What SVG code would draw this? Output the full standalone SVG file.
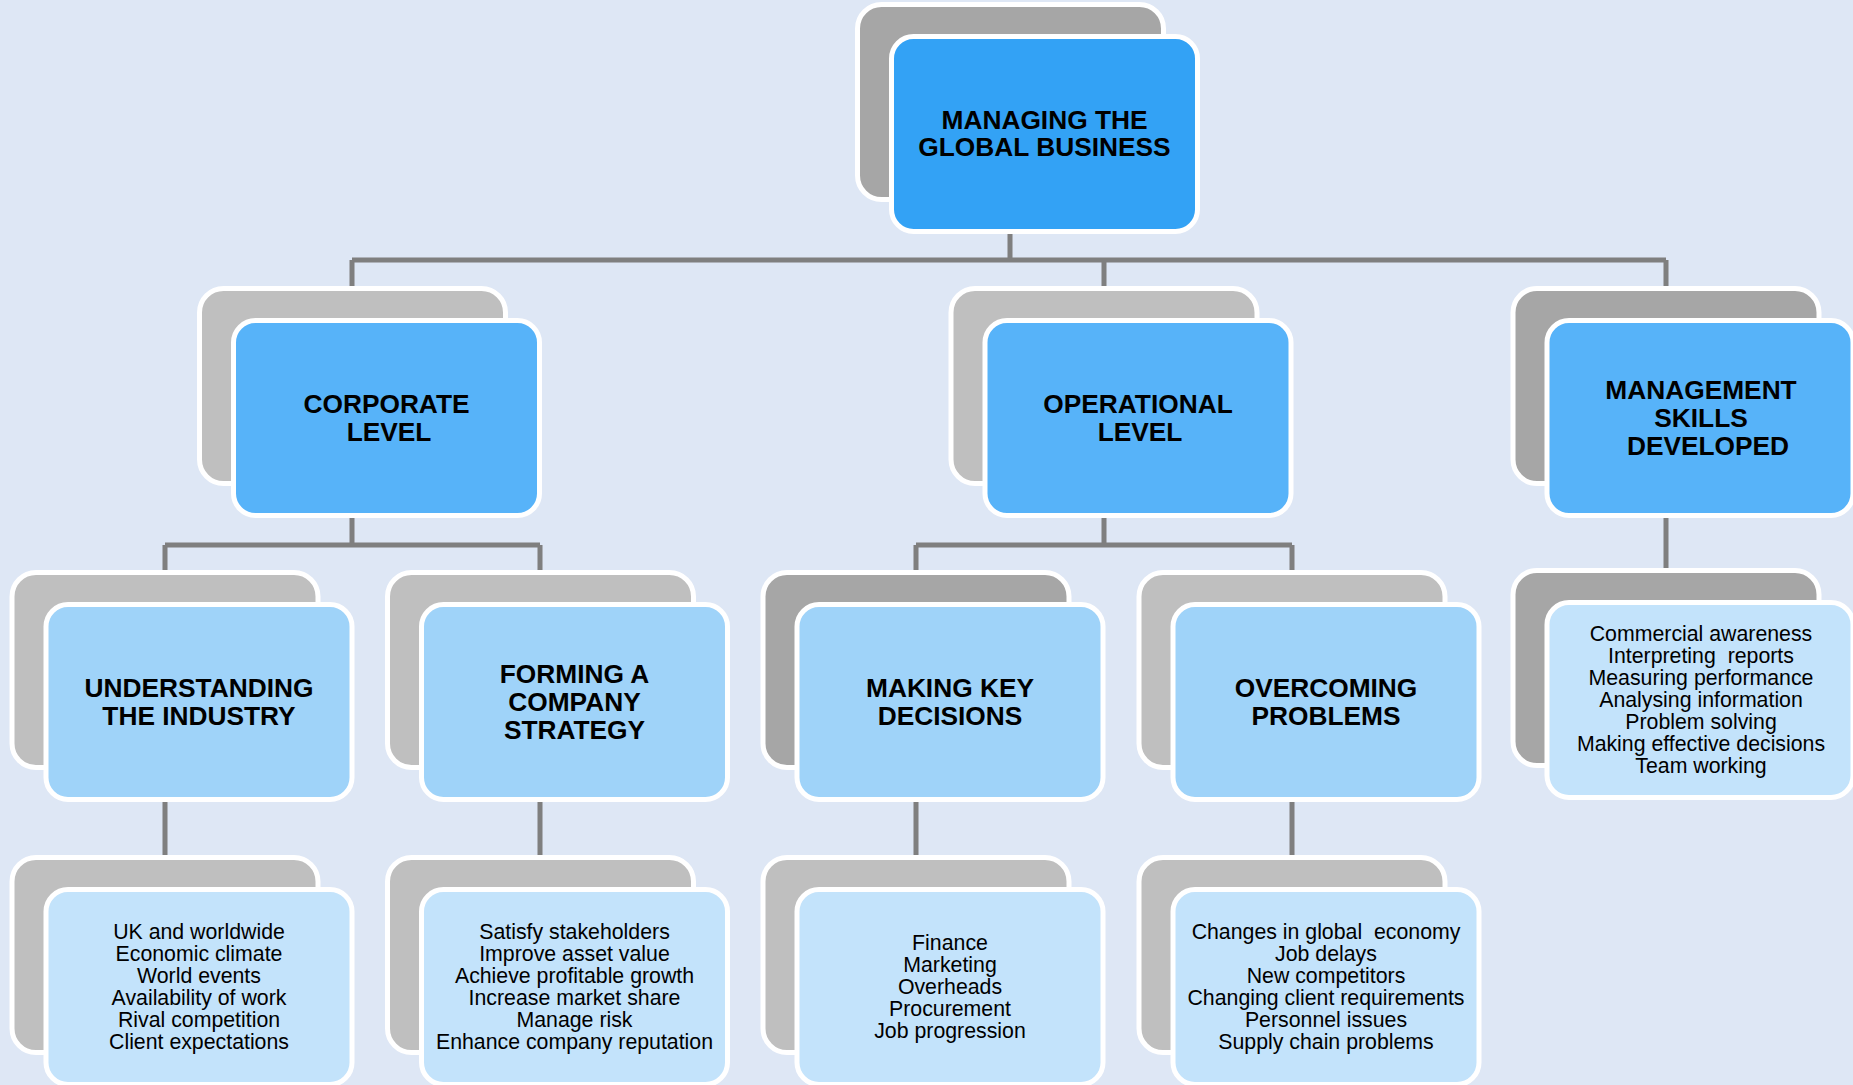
<svg xmlns="http://www.w3.org/2000/svg" width="1853" height="1085" viewBox="0 0 1853 1085">
<style>
.bg{fill:#dee7f5}
.back{stroke:#ffffff;stroke-width:5}
.dk{fill:#a6a6a6}
.lt{fill:#bfbfbf}
.front{stroke:#ffffff;stroke-width:5}
.l1{fill:#33a2f5}
.l2{fill:#57b3f9}
.l3{fill:#9fd3f9}
.l4{fill:#c3e3fb}
.conn{stroke:#7f7f7f;stroke-width:5;fill:none}
.t{font-family:"Liberation Sans",Arial,sans-serif;font-weight:bold;font-size:26.3px;fill:#000;text-anchor:middle}
.s{font-family:"Liberation Sans",Arial,sans-serif;font-size:21.3px;fill:#000;text-anchor:middle;white-space:pre}
</style>
<rect class="bg" x="0" y="0" width="1853" height="1085"/>
<g id="connectors">
<path class="conn" d="M1010 234V260M352 260H1666M352 260V288M1104 260V288M1666 260V288"/>
<path class="conn" d="M352 518V545M165 545H540M165 545V572M540 545V572"/>
<path class="conn" d="M1104 518V545M916 545H1292M916 545V572M1292 545V572"/>
<path class="conn" d="M1666 518V570"/>
<path class="conn" d="M165 802V858M540 802V858M916 802V858M1292 802V858"/>
</g>
<g id="node-top">
<rect class="back dk" x="857.5" y="4.5" width="306" height="195" rx="24"/>
<rect class="front l1" x="891.5" y="36.5" width="306" height="195" rx="22"/>
<text class="t" x="1044.5" y="129" font-size="27">MANAGING THE</text>
<text class="t" x="1044.5" y="156" font-size="27">GLOBAL BUSINESS</text>
</g>
<g id="node-corporate">
<rect class="back lt" x="199.5" y="288.5" width="306" height="195" rx="24"/>
<rect class="front l2" x="233.5" y="320.5" width="306" height="195" rx="22"/>
<text class="t" x="386.5" y="413">CORPORATE</text>
<text class="t" x="389" y="441">LEVEL</text>
</g>
<g id="node-operational">
<rect class="back lt" x="951" y="288.5" width="306" height="195" rx="24"/>
<rect class="front l2" x="985" y="320.5" width="306" height="195" rx="22"/>
<text class="t" x="1138" y="413">OPERATIONAL</text>
<text class="t" x="1140" y="441">LEVEL</text>
</g>
<g id="node-management">
<rect class="back dk" x="1513" y="288.5" width="306" height="195" rx="24"/>
<rect class="front l2" x="1547" y="320.5" width="306" height="195" rx="22"/>
<text class="t" x="1701" y="399">MANAGEMENT</text>
<text class="t" x="1701" y="427">SKILLS</text>
<text class="t" x="1708" y="455">DEVELOPED</text>
</g>
<g id="node-understanding">
<rect class="back lt" x="12" y="572.5" width="306" height="195" rx="24"/>
<rect class="front l3" x="46" y="604.5" width="306" height="195" rx="22"/>
<text class="t" x="199" y="697">UNDERSTANDING</text>
<text class="t" x="199" y="725">THE INDUSTRY</text>
</g>
<g id="node-forming">
<rect class="back lt" x="387.5" y="572.5" width="306" height="195" rx="24"/>
<rect class="front l3" x="421.5" y="604.5" width="306" height="195" rx="22"/>
<text class="t" x="574.5" y="683">FORMING A</text>
<text class="t" x="574.5" y="711">COMPANY</text>
<text class="t" x="574.5" y="739">STRATEGY</text>
</g>
<g id="node-making">
<rect class="back dk" x="763" y="572.5" width="306" height="195" rx="24"/>
<rect class="front l3" x="797" y="604.5" width="306" height="195" rx="22"/>
<text class="t" x="950" y="697">MAKING KEY</text>
<text class="t" x="950" y="725">DECISIONS</text>
</g>
<g id="node-overcoming">
<rect class="back lt" x="1139" y="572.5" width="306" height="195" rx="24"/>
<rect class="front l3" x="1173" y="604.5" width="306" height="195" rx="22"/>
<text class="t" x="1326" y="697">OVERCOMING</text>
<text class="t" x="1326" y="725">PROBLEMS</text>
</g>
<g id="node-skills-list">
<rect class="back dk" x="1513" y="570.5" width="306" height="195" rx="24"/>
<rect class="front l4" x="1547" y="602.5" width="306" height="195" rx="22"/>
<text class="s" x="1701" y="641">Commercial awareness</text>
<text class="s" x="1701" y="663">Interpreting  reports</text>
<text class="s" x="1701" y="685">Measuring performance</text>
<text class="s" x="1701" y="707">Analysing information</text>
<text class="s" x="1701" y="729">Problem solving</text>
<text class="s" x="1701" y="751">Making effective decisions</text>
<text class="s" x="1701" y="773">Team working</text>
</g>
<g id="node-industry-list">
<rect class="back lt" x="12" y="857.5" width="306" height="195" rx="24"/>
<rect class="front l4" x="46" y="889.5" width="306" height="195" rx="22"/>
<text class="s" x="199" y="939">UK and worldwide</text>
<text class="s" x="199" y="961">Economic climate</text>
<text class="s" x="199" y="983">World events</text>
<text class="s" x="199" y="1005">Availability of work</text>
<text class="s" x="199" y="1027">Rival competition</text>
<text class="s" x="199" y="1049">Client expectations</text>
</g>
<g id="node-strategy-list">
<rect class="back lt" x="387.5" y="857.5" width="306" height="195" rx="24"/>
<rect class="front l4" x="421.5" y="889.5" width="306" height="195" rx="22"/>
<text class="s" x="574.5" y="939">Satisfy stakeholders</text>
<text class="s" x="574.5" y="961">Improve asset value</text>
<text class="s" x="574.5" y="983">Achieve profitable growth</text>
<text class="s" x="574.5" y="1005">Increase market share</text>
<text class="s" x="574.5" y="1027">Manage risk</text>
<text class="s" x="574.5" y="1049">Enhance company reputation</text>
</g>
<g id="node-decisions-list">
<rect class="back lt" x="763" y="857.5" width="306" height="195" rx="24"/>
<rect class="front l4" x="797" y="889.5" width="306" height="195" rx="22"/>
<text class="s" x="950" y="950">Finance</text>
<text class="s" x="950" y="972">Marketing</text>
<text class="s" x="950" y="994">Overheads</text>
<text class="s" x="950" y="1016">Procurement</text>
<text class="s" x="950" y="1038">Job progression</text>
</g>
<g id="node-problems-list">
<rect class="back lt" x="1139" y="857.5" width="306" height="195" rx="24"/>
<rect class="front l4" x="1173" y="889.5" width="306" height="195" rx="22"/>
<text class="s" x="1326" y="939">Changes in global  economy</text>
<text class="s" x="1326" y="961">Job delays</text>
<text class="s" x="1326" y="983">New competitors</text>
<text class="s" x="1326" y="1005">Changing client requirements</text>
<text class="s" x="1326" y="1027">Personnel issues</text>
<text class="s" x="1326" y="1049">Supply chain problems</text>
</g>
</svg>
